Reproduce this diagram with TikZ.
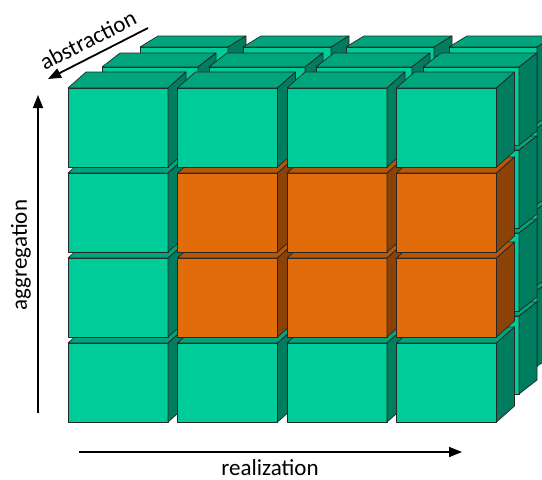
\documentclass[tikz,border=0pt]{standalone}
\usepackage{fontspec}
\setmainfont{Carlito}
\usetikzlibrary{arrows.meta}

\definecolor{greenfront}{RGB}{0,204,153}
\definecolor{greentop}{RGB}{0,165,123}
\definecolor{greenside}{RGB}{0,125,94}
\definecolor{orangefront}{RGB}{227,108,10}
\definecolor{orangetop}{RGB}{182,86,8}
\definecolor{orangeside}{RGB}{138,66,6}

% one cube: front corner (#1,#2), width #3, height #4, depth (#5,#6), colour #7
\newcommand{\cubeat}[7]{%
  \draw[cubeline, fill=#7front] (#1,#2) rectangle ++(#3,#4);
  \draw[cubeline, fill=#7top] (#1,#2) -- ++(#5,#6) -- ++(#3,0) -- ++({-(#5)},{-(#6)}) -- cycle;
  \draw[cubeline, fill=#7side] ({#1+#3},#2) -- ++(#5,#6) -- ++(0,#4) -- ++({-(#5)},{-(#6)}) -- cycle;
}

\begin{document}
\begin{tikzpicture}[
    x=1pt, y=-1pt,
    cubeline/.style={draw=black!85, line width=0.7pt, line join=round},
    arrow/.style={-{Triangle[length=13pt,width=10pt]}, line width=1.8pt},
    axislabel/.style={font=\fontsize{23}{27}\selectfont, inner sep=0pt}
  ]
  \clip (0,0) rectangle (542,480);

  % three layers of 4x4 cubes, back to front
  \foreach \lay/\ox/\oy/\px/\py/\w/\h/\dx/\dy in {2/140/47/103/81/88/76/18/-11, 1/102/67/107/83/96/78/18/-14, 0/68/88/109.5/85/100/79/18/-16} {
    \foreach \row in {3,2,1,0} {
      \foreach \col in {0,1,2,3} {
        \def\tone{green}
        % middle block of the front layer
        \ifnum\lay=0 \ifnum\row>0 \ifnum\row<3 \ifnum\col>0 \def\tone{orange}\fi\fi\fi\fi
        \cubeat{\ox+\col*\px}{\oy+\row*\py}{\w}{\h}{\dx}{\dy}{\tone}
      }
    }
  }

  % axes
  \coordinate (aggS) at (38,413);
  \coordinate (aggE) at (38,95);
  \coordinate (realS) at (79,452);
  \coordinate (realE) at (462,452);
  \coordinate (absS) at (148,28);
  \coordinate (absE) at (48,79);

  \draw[arrow] (aggS) -- (aggE);
  \draw[arrow] (realS) -- (realE);
  \draw[arrow] (absS) -- (absE);

  \node[axislabel, rotate=90] (agg) at (21,255) {aggregation};
  \node[axislabel] (real) at (270,468) {realization};
  \node[axislabel, rotate=27] (abs) at (88,40) {abstraction};

\end{tikzpicture}
\end{document}
